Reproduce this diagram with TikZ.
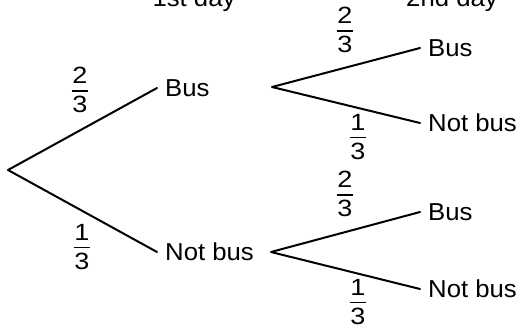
\documentclass[tikz,border=0pt]{standalone}
\usepackage{fontspec}
\setmainfont[FakeStretch=1.05]{Liberation Sans}
\newfontfamily\probfont[FakeStretch=1.15]{Liberation Sans}
% stacked fraction: numerator, bar, denominator
\newcommand\pfrac[2]{{\setlength\arrayrulewidth{1.6pt}%
  \begin{tabular}{@{\kern0.5pt}c@{\kern0.5pt}}#1\\\hline\rule{0pt}{21pt}#2\end{tabular}}}
\begin{document}
\begin{tikzpicture}[x=1pt,y=-1pt,
  branch/.style={line width=2pt, line cap=round, line join=round},
  outcome/.style={anchor=west, inner sep=0pt, inner xsep=8pt,
    font=\fontsize{24.5}{29}\selectfont},
  prob/.style={inner sep=0pt, font=\probfont\fontsize{23.5}{20}\selectfont},
  heading/.style={anchor=base, inner sep=0pt,
    font=\fontsize{24.5}{29}\selectfont}]
\useasboundingbox (0,0) rectangle (526,324);
\clip (0,0) rectangle (526,324);

% column headings
\node[heading] (h1) at (194,6) {1st day};
\node[heading] (h2) at (452,6) {2nd day};

% branching points
\coordinate (root) at (8,170);
\coordinate (v1) at (272,87);
\coordinate (v2) at (271,252);

% outcomes
\node[outcome] (b1) at (157,88) {Bus};
\node[outcome] (n1) at (157,252) {Not bus};
\node[outcome] (bb) at (420,48) {Bus};
\node[outcome] (bn) at (420,123) {Not bus};
\node[outcome] (nb) at (420,212) {Bus};
\node[outcome] (nn) at (420,289) {Not bus};

% branches
\draw[branch] (b1.west) -- (root) -- (n1.west);
\draw[branch] (bb.west) -- (v1) -- (bn.west);
\draw[branch] (nb.west) -- (v2) -- (nn.west);

% probabilities
\node[prob] (p1) at (80,93) {\pfrac{2}{3}};
\node[prob] (p2) at (82,250) {\pfrac{1}{3}};
\node[prob] (p3) at (345,33) {\pfrac{2}{3}};
\node[prob] (p4) at (358,140) {\pfrac{1}{3}};
\node[prob] (p5) at (345,197) {\pfrac{2}{3}};
\node[prob] (p6) at (358,305) {\pfrac{1}{3}};
\end{tikzpicture}
\end{document}
